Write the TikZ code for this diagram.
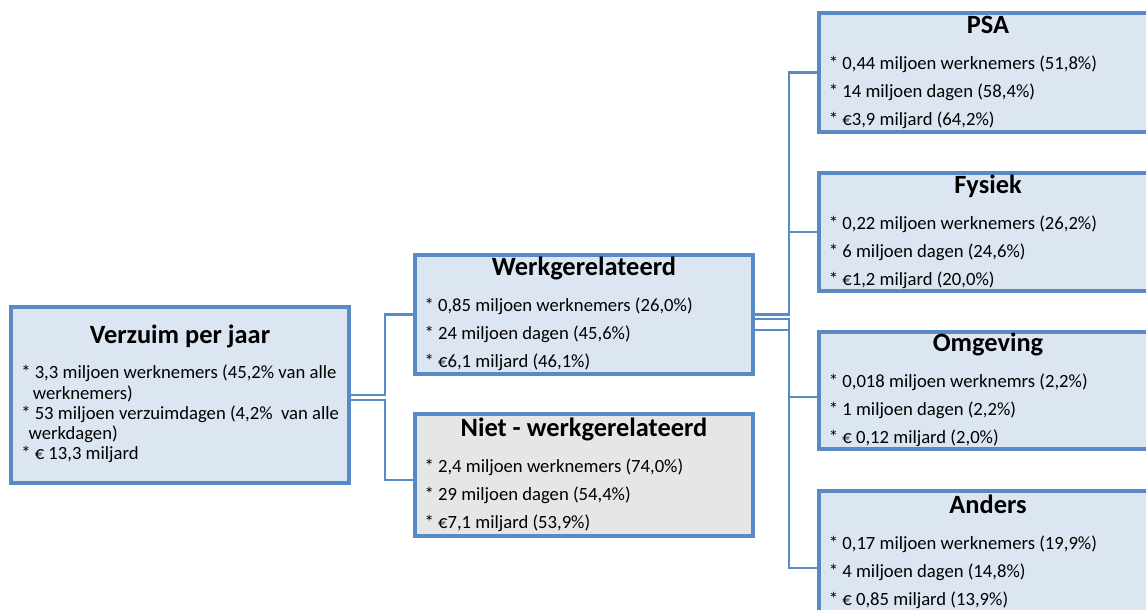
\documentclass[tikz,border=0pt]{standalone}
\usepackage{fontspec}
\setmainfont{Carlito}
\usetikzlibrary{positioning, fit}
\definecolor{boxblue}{HTML}{DCE6F2}
\definecolor{boxgray}{HTML}{E6E6E6}
\definecolor{edgeblue}{HTML}{588AC6}

\tikzset{
  catbox/.style={draw=edgeblue, line width=2.6pt, fill=boxblue, inner sep=0pt},
  cattitle/.style={font=\fontsize{19.8}{24}\selectfont\bfseries, anchor=base, inner sep=0pt},
  catbody/.style={font=\fontsize{14}{21}\selectfont, align=left, anchor=base west, inner sep=0pt},
  conn/.style={draw=edgeblue, line width=2pt},
}

\begin{document}
\begin{tikzpicture}[x=0.75pt, y=-0.75pt]
\clip (0,0) rectangle (1146,610);
%
% boxes
\node[catbox, fit={(11,307) (349,483)}] (verzuim) {};
\node[catbox, fit={(415,255) (753,374)}] (werk) {};
\node[catbox, fill=boxgray, fit={(415,414) (753,536)}] (niet) {};
\node[catbox, fit={(819,13) (1157,132)}] (psa) {};
\node[catbox, fit={(819,173) (1157,291)}] (fysiek) {};
\node[catbox, fit={(819,332) (1157,449)}] (omgeving) {};
\node[catbox, fit={(819,491) (1157,645)}] (anders) {};
%
% texts (body nodes sit on the baseline of their last line)
\node[cattitle] (verzuim-t) at ([yshift=-28.5pt]verzuim.north) {Verzuim per jaar};
\node[catbody, font=\fontsize{14}{15.2}\selectfont] (verzuim-b)
  at ([xshift=8.8pt, yshift=-116pt]verzuim.north west)
  {* 3,3 miljoen werknemers (45,2\% van alle\\
   \hspace*{8.7pt}werknemers)\\
   * 53 miljoen verzuimdagen (4,2\%\ \ van alle\\
   \hspace*{5.5pt}werkdagen)\\
   * € 13,3 miljard};

\node[cattitle] (werk-t) at ([yshift=-17pt]werk.north) {Werkgerelateerd};
\node[catbody] (werk-b) at ([xshift=8.3pt, yshift=-86pt]werk.north west)
  {* 0,85 miljoen werknemers (26,0\%)\\
   * 24 miljoen dagen (45,6\%)\\
   * €6,1 miljard (46,1\%)};

\node[cattitle] (niet-t) at ([yshift=-18.5pt]niet.north) {Niet - werkgerelateerd};
\node[catbody] (niet-b) at ([xshift=8.3pt, yshift=-87pt]niet.north west)
  {* 2,4 miljoen werknemers (74,0\%)\\
   * 29 miljoen dagen (54,4\%)\\
   * €7,1 miljard (53,9\%)};

\node[cattitle] (psa-t) at ([yshift=-17pt]psa.north) {PSA};
\node[catbody] (psa-b) at ([xshift=8.5pt, yshift=-86pt]psa.north west)
  {* 0,44 miljoen werknemers (51,8\%)\\
   * 14 miljoen dagen (58,4\%)\\
   * €3,9 miljard (64,2\%)};

\node[cattitle] (fysiek-t) at ([yshift=-17pt]fysiek.north) {Fysiek};
\node[catbody] (fysiek-b) at ([xshift=8.5pt, yshift=-86pt]fysiek.north west)
  {* 0,22 miljoen werknemers (26,2\%)\\
   * 6 miljoen dagen (24,6\%)\\
   * €1,2 miljard (20,0\%)};

\node[cattitle] (omgeving-t) at ([yshift=-16pt]omgeving.north) {Omgeving};
\node[catbody] (omgeving-b) at ([xshift=8.5pt, yshift=-84.75pt]omgeving.north west)
  {* 0,018 miljoen werknemrs (2,2\%)\\
   * 1 miljoen dagen (2,2\%)\\
   * € 0,12 miljard (2,0\%)};

\node[cattitle] (anders-t) at ([yshift=-18.5pt]anders.north) {Anders};
\node[catbody] (anders-b) at ([xshift=8.5pt, yshift=-86.8pt]anders.north west)
  {* 0,17 miljoen werknemers (19,9\%)\\
   * 4 miljoen dagen (14,8\%)\\
   * € 0,85 miljard (13,9\%)};
%
% connectors
\coordinate (split1) at (385,0);
\coordinate (split2) at (789,0);
\draw[conn] (verzuim.east) -| (split1 |- werk.west) -- (werk.west);
\draw[conn] ([yshift=-3.75pt]verzuim.east) -| ([yshift=-3.75pt]split1 |- niet.west) -- ([yshift=-3.75pt]niet.west);
\draw[conn] (werk.east) -| (split2 |- psa.west) -- (psa.west);
\draw[conn] (werk.east) -| (split2 |- fysiek.west) -- (fysiek.west);
\draw[conn] ([yshift=-3.4pt]werk.east) -| ([yshift=-4.9pt]split2 |- omgeving.west) -- ([yshift=-4.9pt]omgeving.west);
\draw[conn] ([yshift=-11.6pt]werk.east) -| (split2 |- anders.west) -- (anders.west);
%
\end{tikzpicture}
\end{document}
